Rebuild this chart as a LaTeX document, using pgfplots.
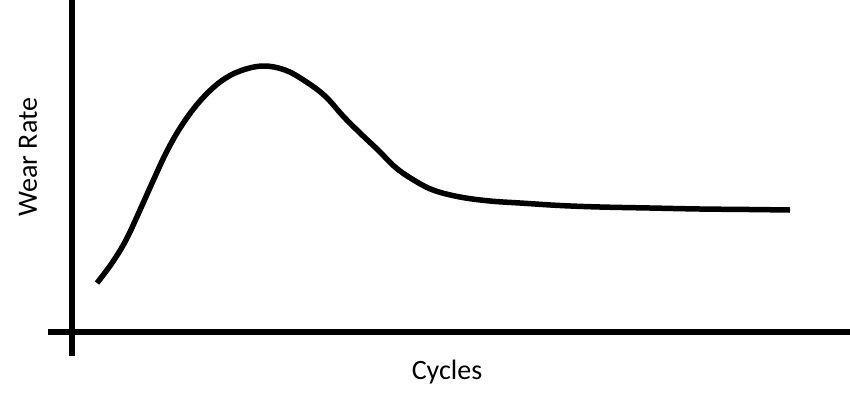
\documentclass[border=0pt]{standalone}
\usepackage{fontspec}
\setmainfont{Carlito}
\usepackage{pgfplots}
\pgfplotsset{compat=1.18}

% curve traced in picture units (x right, y down)
\pgfplotstableread{
x y
97 283
112 263
126 240
140 210
153 181
167 151
182 125
200 101
220 82
240 71
263 66
285 70
305 81
325 96
343 116
360 133
378 150
395 167
412 179
433 190
460 197
490 201
520 203
560 205.5
600 207
650 208
700 209
750 209.5
790 210
}\wearcurve

\begin{document}
\begin{tikzpicture}
\begin{axis}[
    width=850pt, height=400pt,
    scale only axis,
    xmin=0, xmax=850,
    ymin=0, ymax=400,
    y dir=reverse,
    axis lines=none,
    clip=false,
]
\draw[line width=6pt] (axis cs:72,0) -- (axis cs:72,356);
\draw[line width=6pt] (axis cs:48,332) -- (axis cs:850,332);
\addplot[line width=5.5pt, smooth, tension=0.6] table {\wearcurve};
\node[rotate=90, font=\fontsize{28}{32}\selectfont] at (axis cs:28,157) {Wear Rate};
\node[font=\fontsize{28}{32}\selectfont] at (axis cs:447,372) {Cycles};
\end{axis}
\pgfresetboundingbox
\path (0,0) rectangle (850pt,400pt);
\end{tikzpicture}
\end{document}
